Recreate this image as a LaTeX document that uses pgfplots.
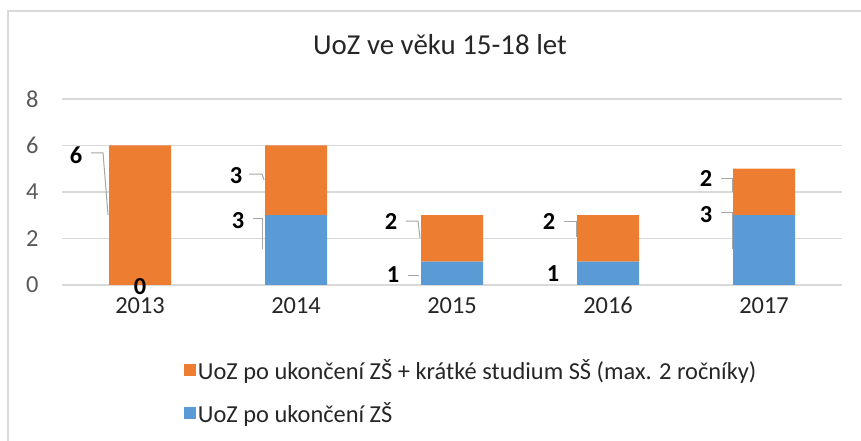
\documentclass[border=0pt]{standalone}
\usepackage{pgfplots}
\pgfplotsset{compat=1.18}
\usepackage{fontspec}
\setmainfont{Carlito}
\definecolor{uozorange}{HTML}{ED7D31}
\definecolor{uozblue}{HTML}{5B9BD5}
\definecolor{gridgray}{HTML}{D9D9D9}
\definecolor{txtgray}{HTML}{595959}
\definecolor{leadergray}{HTML}{A6A6A6}
\begin{document}
\begin{tikzpicture}[x=1bp,y=1bp]
\path[use as bounding box] (0,0) rectangle (861,441);
\draw[gridgray, line width=1.5bp] (8,0) -- (8,430) -- (861,430);
\node[font=\fontsize{29}{34}\selectfont, text=black!85] at (440,396) {UoZ ve věku 15-18 let};
\begin{axis}[
  at={(62bp,156bp)}, anchor=south west,
  scale only axis, width=780bp, height=186bp,
  ybar stacked, bar width=62bp,
  xmin=-0.5, xmax=4.5, ymin=0, ymax=8,
  xtick={0,1,2,3,4}, xticklabels={2013,2014,2015,2016,2017},
  ytick={0,2,4,6,8},
  /pgf/number format/assume math mode=true,
  axis line style={draw=none},
  ymajorgrids, grid style={gridgray, line width=1.5bp},
  major tick length=0pt,
  tick label style={font=\fontsize{24.5}{29}\selectfont},
  yticklabel style={text=txtgray, xshift=-20bp},
  xticklabel style={text=black!85, yshift=-12bp, inner sep=0pt},
  clip=false,
  reverse legend,
  legend style={at={(0.156,-0.39)}, anchor=north west, draw=none, fill=none,
    font=\fontsize{24.5}{29}\selectfont, text=black!85, inner sep=0pt,
    row sep=17bp, /tikz/every even column/.append style={column sep=3bp}},
  legend cell align=left,
]
\addplot[fill=uozblue, draw=none,
  legend image code/.code={\fill[uozblue] (0bp,-6bp) rectangle (12bp,6bp);}]
  coordinates {(0,0) (1,3) (2,1) (3,1) (4,3)};
\addlegendentry{UoZ po ukončení ZŠ}
\addplot[fill=uozorange, draw=none,
  legend image code/.code={\fill[uozorange] (0bp,-6bp) rectangle (12bp,6bp);}]
  coordinates {(0,6) (1,3) (2,2) (3,2) (4,2)};
\addlegendentry{UoZ po ukončení ZŠ + krátké studium SŠ (max. 2 ročníky)}
% anchor points for the data labels (drawn after the axis, on top of the bars)
\coordinate (L1) at (axis cs:-0.410,5.59);
\coordinate (L1a) at (axis cs:-0.314,5.68); \coordinate (L1b) at (axis cs:-0.237,5.68); \coordinate (L1c) at (axis cs:-0.205,3.01);
\coordinate (L0) at (axis cs:0,-0.08);
\coordinate (L2) at (axis cs:0.615,4.69);
\coordinate (L2a) at (axis cs:0.699,4.77); \coordinate (L2b) at (axis cs:0.782,4.77); \coordinate (L2c) at (axis cs:0.795,4.52);
\coordinate (L3) at (axis cs:0.628,2.75);
\coordinate (L3a) at (axis cs:0.724,2.84); \coordinate (L3b) at (axis cs:0.788,2.84); \coordinate (L3c) at (axis cs:0.788,1.55);
\coordinate (L4) at (axis cs:1.609,2.71);
\coordinate (L4a) at (axis cs:1.705,2.75); \coordinate (L4b) at (axis cs:1.782,2.75); \coordinate (L4c) at (axis cs:1.795,2.02);
\coordinate (L5) at (axis cs:1.622,0.43);
\coordinate (L5a) at (axis cs:1.718,0.39); \coordinate (L5b) at (axis cs:1.788,0.39);
\coordinate (L6) at (axis cs:2.622,2.71);
\coordinate (L6a) at (axis cs:2.718,2.71); \coordinate (L6b) at (axis cs:2.795,2.71); \coordinate (L6c) at (axis cs:2.795,2.06);
\coordinate (L7) at (axis cs:2.647,0.47);
\coordinate (L8) at (axis cs:3.628,4.56);
\coordinate (L8a) at (axis cs:3.724,4.60); \coordinate (L8b) at (axis cs:3.795,4.60); \coordinate (L8c) at (axis cs:3.795,4.0);
\coordinate (L9) at (axis cs:3.628,3.01);
\coordinate (L9a) at (axis cs:3.724,3.10); \coordinate (L9b) at (axis cs:3.795,3.10); \coordinate (L9c) at (axis cs:3.795,1.55);
\end{axis}
\tikzset{dl/.style={font=\bfseries\fontsize{24.5}{29}\selectfont, text=black}, ld/.style={leadergray, line width=1bp}}
\draw[ld] (L1a) -- (L1b) -- (L1c);
\draw[ld] (L2a) -- (L2b) -- (L2c);
\draw[ld] (L3a) -- (L3b) -- (L3c);
\draw[ld] (L4a) -- (L4b) -- (L4c);
\draw[ld] (L5a) -- (L5b);
\draw[ld] (L6a) -- (L6b) -- (L6c);
\draw[ld] (L8a) -- (L8b) -- (L8c);
\draw[ld] (L9a) -- (L9b) -- (L9c);
\node[dl] at (L1) {6};
\node[dl, inner sep=0pt] at (L0) {0};
\node[dl] at (L2) {3};
\node[dl] at (L3) {3};
\node[dl] at (L4) {2};
\node[dl] at (L5) {1};
\node[dl] at (L6) {2};
\node[dl] at (L7) {1};
\node[dl] at (L8) {2};
\node[dl] at (L9) {3};
\end{tikzpicture}
\end{document}
